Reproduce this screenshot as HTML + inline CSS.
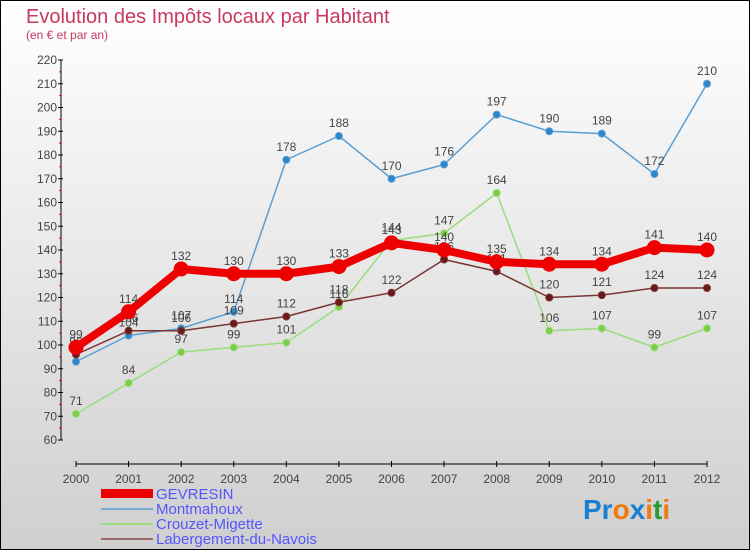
<!DOCTYPE html>
<html><head><meta charset="utf-8"><style>
body{margin:0}
#c{width:748px;height:548px;border:1px solid #000;background:linear-gradient(#fff,#cfcfcf);position:relative;font-family:"Liberation Sans",sans-serif;overflow:hidden}
</style></head><body>
<div id="c">
<svg id="s" width="748" height="548" xmlns="http://www.w3.org/2000/svg">
<text x="25" y="22" font-size="20" fill="#c8385f">Evolution des Impôts locaux par Habitant</text>
<text x="25" y="38" font-size="12" fill="#c8385f">(en € et par an)</text>
<g id="axes"></g><g id="plot"></g>
<g>
<rect x="100" y="488" width="52" height="9" fill="#e00"/>
<text x="155" y="498" font-size="15" fill="#55f">GEVRESIN</text>
<rect x="100" y="507" width="52" height="2" fill="#79a9d0"/>
<text x="155" y="513" font-size="15" fill="#55f">Montmahoux</text>
<rect x="100" y="522" width="52" height="2" fill="#9bdc7c"/>
<text x="155" y="528" font-size="15" fill="#55f">Crouzet-Migette</text>
<rect x="100" y="537" width="52" height="2" fill="#9a6a6a"/>
<text x="155" y="543" font-size="15" fill="#55f">Labergement-du-Navois</text>
</g>
<text x="582" y="518" font-size="28" font-weight="bold"><tspan fill="#1a7fd0">Pr</tspan><tspan fill="#f07a10">o</tspan><tspan fill="#1a7fd0">x</tspan><tspan fill="#f07a10">i</tspan><tspan fill="#2a9a3a">t</tspan><tspan fill="#f07a10">i</tspan></text>
</svg></div>
<script>
const years=[2000,2001,2002,2003,2004,2005,2006,2007,2008,2009,2010,2011,2012];
const yTicks=[60,70,80,90,100,110,120,130,140,150,160,170,180,190,200,210,220];
const gevresin=[99,114,132,130,130,133,143,140,135,134,134,141,140];
const montmahoux=[93,104,107,114,178,188,170,176,197,190,189,172,210];
const crouzet=[71,84,97,99,101,116,144,147,164,106,107,99,107];
const labergement=[96,106,106,109,112,118,122,136,131,120,121,124,124];
const NS="http://www.w3.org/2000/svg";
const X=i=>75+i*(631/12);
const Y=v=>439-(v-60)*2.375;
function mk(p,t,a){const e=document.createElementNS(NS,t);for(const k in a)e.setAttribute(k,a[k]);p.appendChild(e);return e;}
const ax=document.getElementById('axes'),pl=document.getElementById('plot');
const yl=mk(ax,'line',{x1:60,y1:Y(220),x2:60,y2:Y(60),stroke:'#000'});


yTicks.forEach(v=>{
 const t=mk(ax,'line',{x1:57,x2:62,y1:Y(v),y2:Y(v),stroke:'#000'});
 
 
 if(v<220){const m=mk(ax,'line',{x1:58,x2:60,y1:Y(v+5),y2:Y(v+5),stroke:'#e00'});
 
 }
 const l=mk(ax,'text',{x:56,y:Y(v)+4,'font-size':12,fill:'#444','text-anchor':'end'});l.textContent=v;
 
 
});
const xl=mk(ax,'line',{x1:X(0),x2:X(12),y1:463,y2:463,stroke:'#000'});


years.forEach((y,i)=>{
 const t=mk(ax,'line',{x1:X(i),x2:X(i),y1:460,y2:466,stroke:'#000'});
 
 
 const l=mk(ax,'text',{x:X(i),y:482,'font-size':12,fill:'#444','text-anchor':'middle'});l.textContent=y;
 
 
});
function series(vals,name,col,w,r,dot){
 const g=mk(pl,'g',{});
 
 
 const ln=mk(g,'polyline',{points:vals.map((v,i)=>X(i)+','+Y(v)).join(' '),fill:'none',stroke:col,'stroke-width':w,'stroke-linejoin':'round'});
 
 
 vals.forEach((v,i)=>{
  const c=mk(g,'circle',{cx:X(i),cy:Y(v),r:r,fill:dot,stroke:col,'stroke-width':1});
  
  
  const t=mk(g,'text',{x:X(i),y:Y(v)-9,'font-size':12,fill:'#444','text-anchor':'middle'});t.textContent=v;
  
  
 });
}
series(crouzet,'crouzet','#9bdc7c',1.5,3.5,'#7ccc45');
series(montmahoux,'montmahoux','#5a9fd4',1.5,3.5,'#2d86c8');
series(labergement,'labergement','#7a3434',1.5,3.5,'#6a1a1a');
series(gevresin,'gevresin','#e00',8,7,'#e00');
</script>
</body></html>
